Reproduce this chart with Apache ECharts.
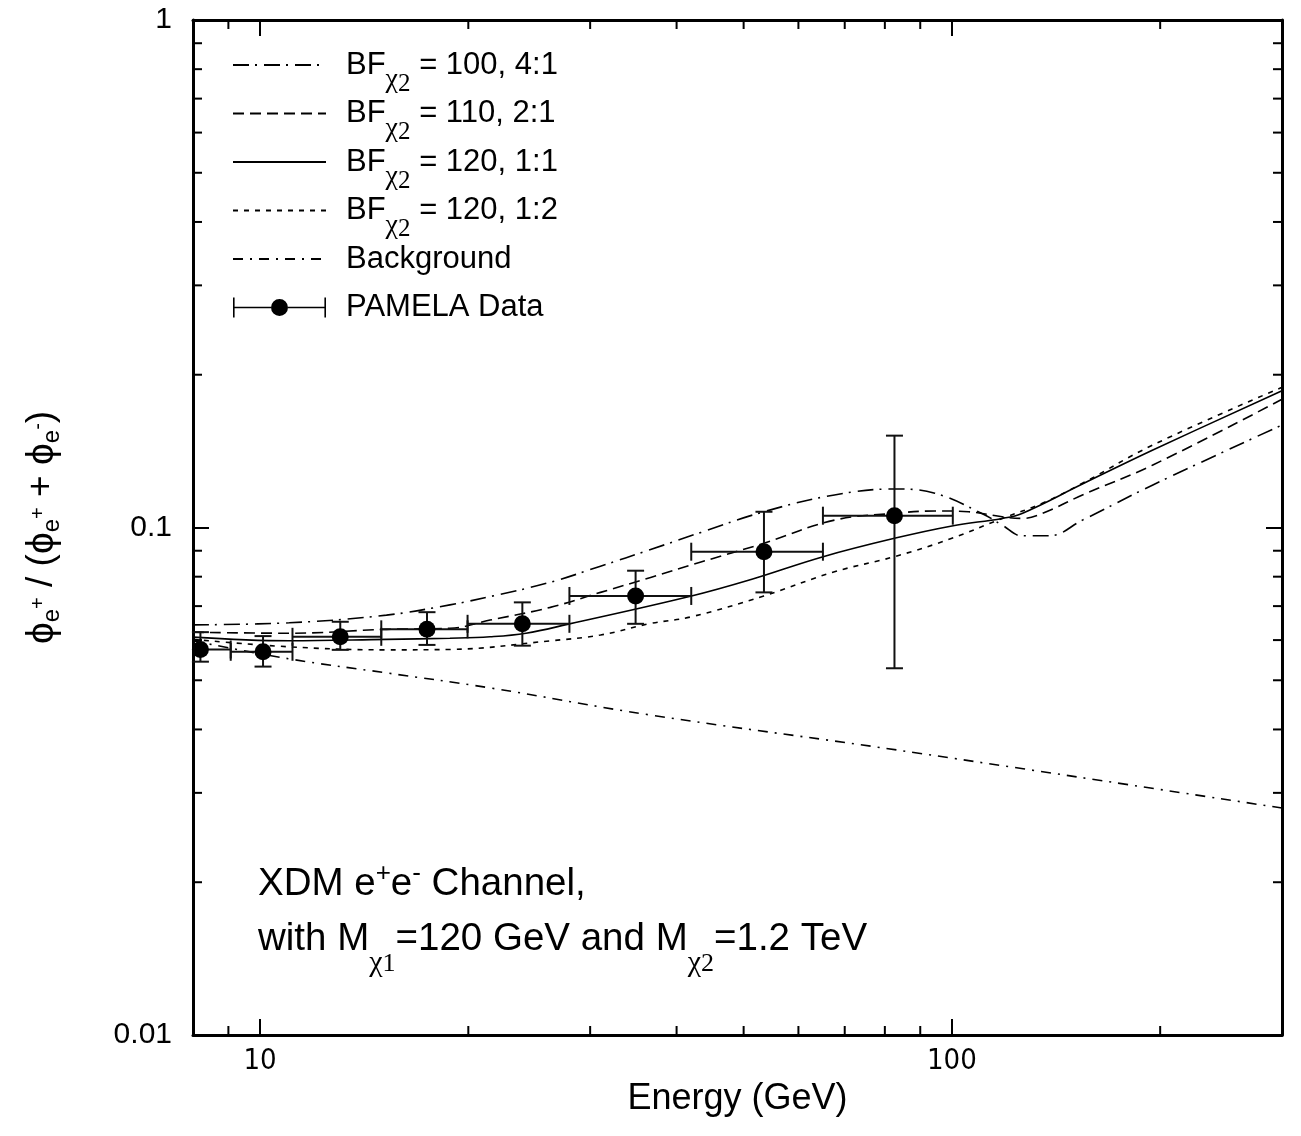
<!DOCTYPE html>
<html><head><meta charset="utf-8">
<script src="https://cdn.jsdelivr.net/npm/echarts/dist/echarts.min.js"></script>
<style>html,body{margin:0;padding:0;background:#fff}#c{width:1301px;height:1136px}</style>
</head><body><div id="c"></div>
<script>
// ---------- data ----------
const seriesNames = ['BFχ2 = 100, 4:1', 'BFχ2 = 110, 2:1', 'BFχ2 = 120, 1:1', 'BFχ2 = 120, 1:2', 'Background', 'PAMELA Data'];

const curveA_E = [8, 11.02, 15.23, 18.81, 21.50, 26.27, 31.05, 36.69, 43.38, 53.47, 67.65, 82.56, 94.48, 110.5, 118.2, 126.3, 138.1, 154.4, 195.2, 300];
const curveA_R = [0.0643, 0.0649, 0.0672, 0.0704, 0.0731, 0.0780, 0.0839, 0.0905, 0.0978, 0.1074, 0.1159, 0.1191, 0.1168, 0.1066, 0.1011, 0.0963, 0.0963, 0.1034, 0.1213, 0.1592];

const curveB_E = [8, 11.02, 15.23, 18.81, 21.50, 26.27, 31.05, 36.69, 43.38, 53.47, 67.65, 82.56, 94.48, 105.7, 118.2, 126.3, 135.1, 154.4, 195.2, 300];
const curveB_R = [0.0622, 0.0619, 0.0630, 0.0633, 0.0657, 0.0696, 0.0745, 0.0797, 0.0855, 0.0931, 0.1034, 0.1066, 0.1078, 0.1074, 0.1050, 0.1042, 0.1066, 0.1159, 0.1328, 0.1789];

const curveC_E = [8, 11.02, 15.23, 18.81, 21.50, 24.23, 27.90, 42.03, 51.25, 65.14, 82.56, 100, 118.2, 126.3, 154.4, 195.2, 300];
const curveC_R = [0.0608, 0.0598, 0.0602, 0.0605, 0.0609, 0.0619, 0.0645, 0.0733, 0.0790, 0.0876, 0.0952, 0.1007, 0.1042, 0.1066, 0.1218, 0.1421, 0.1860];

const curveD_E = [8, 11.02, 15.23, 18.81, 26.27, 31.05, 36.69, 42.03, 53.47, 67.65, 82.56, 100, 118.2, 135.1, 154.4, 195.2, 300];
const curveD_R = [0.0602, 0.0582, 0.0574, 0.0575, 0.0598, 0.0614, 0.0647, 0.0667, 0.0733, 0.0818, 0.0876, 0.0952, 0.1042, 0.1116, 0.1222, 0.1454, 0.1889];

const bg_E = [8, 11.02, 15.23, 21.50, 36.69, 83.76, 300];
const bg_R = [0.0598, 0.0551, 0.0517, 0.0483, 0.0427, 0.0364, 0.0280];

const pam_E   = [8.20, 10.10, 13.06, 17.43, 23.94, 34.9, 53.5, 82.6];
const pam_R   = [0.0575, 0.0569, 0.0609, 0.0630, 0.0646, 0.0733, 0.0896, 0.1055];
const pam_Elo = [7.4, 9.07, 11.14, 14.97, 19.95, 28.0, 42.0, 65.1];
const pam_Ehi = [9.07, 11.14, 14.97, 19.95, 28.0, 42.0, 65.1, 100.3];
const pam_Rlo = [0.0544, 0.0532, 0.0574, 0.0587, 0.0585, 0.0646, 0.0745, 0.0528];
const pam_Rhi = [0.0622, 0.0611, 0.0652, 0.0681, 0.0712, 0.0822, 0.1074, 0.1517];

const xTickValues = [10, 100];
const xTickLabels = ['10', '100'];
const yTickValues = [0.01, 0.1, 1];
const yTickLabels = ['0.01', '0.1', '1'];
const xMinorTicks = [9, 20, 30, 40, 50, 60, 70, 80, 90, 200];
const yMinorTicks = [0.02, 0.03, 0.04, 0.05, 0.06, 0.07, 0.08, 0.09, 0.2, 0.3, 0.4, 0.5, 0.6, 0.7, 0.8, 0.9];

// ---------- chart ----------
const zip = (xs, ys) => xs.map((x, i) => [x, ys[i]]);
const SANS = "'Liberation Sans', Arial, Helvetica, sans-serif";
const NARROW = "'Liberation Sans Narrow', 'DejaVu Sans Condensed', 'Liberation Sans', sans-serif";
const SERIF = "'Liberation Serif', 'Times New Roman', serif";

function tickLabel(values, labels) {
  return function (v) {
    for (let i = 0; i < values.length; i++) {
      if (Math.abs(Math.log10(v) - Math.log10(values[i])) < 1e-6) return labels[i];
    }
    return '';
  };
}

const chart = echarts.init(document.getElementById('c'), null, { renderer: 'canvas' });

const lineCommon = { type: 'line', showSymbol: false, symbol: 'none', smooth: 0.4, color: '#000', silent: true, z: 2 };
const axisLineStyle = { show: true, lineStyle: { color: '#000', width: 3 } };
const hiddenSymbol = { color: 'rgba(0,0,0,0)', opacity: 0, borderWidth: 0 };

const option = {
  animation: false,
  backgroundColor: '#fff',
  grid: { left: 193, top: 20, width: 1089, height: 1015, containLabel: false, outerBoundsMode: 'none' },
  xAxis: [
    { type: 'log', logBase: 10, min: 8, max: 300, position: 'bottom',
      axisLine: axisLineStyle,
      axisTick: { show: true, inside: true, length: 16, lineStyle: { color: '#000', width: 2 } },
      axisLabel: { show: true, formatter: tickLabel(xTickValues, xTickLabels), fontFamily: NARROW, fontSize: 29, color: '#000', margin: 12, showMinLabel: false, showMaxLabel: false },
      splitLine: { show: false }, minorTick: { show: false },
      name: 'Energy (GeV)', nameLocation: 'middle', nameGap: 40,
      nameTextStyle: { fontFamily: SANS, fontSize: 36, color: '#000', verticalAlign: 'top' } },
    { type: 'log', logBase: 10, min: 8, max: 300, position: 'top',
      axisLine: axisLineStyle,
      axisTick: { show: true, inside: true, length: 16, lineStyle: { color: '#000', width: 2 } },
      axisLabel: { show: false }, splitLine: { show: false } }
  ],
  yAxis: [
    { type: 'log', logBase: 10, min: 0.01, max: 1, position: 'left',
      axisLine: axisLineStyle,
      axisTick: { show: true, inside: true, length: 16, lineStyle: { color: '#000', width: 2 } },
      axisLabel: { show: true, formatter: tickLabel(yTickValues, yTickLabels), fontFamily: SANS, fontSize: 30, color: '#000', margin: 21 },
      splitLine: { show: false },
      name: '{p|ϕ}{s|e}{ss|+} / ({p|ϕ}{s|e}{ss|+} + {p|ϕ}{s|e}{ss|-})', nameLocation: 'middle', nameGap: 128, nameRotate: 90,
      nameTextStyle: { fontFamily: SANS, fontSize: 37, color: '#000', lineHeight: 46,
        rich: {
          p: { fontFamily: SANS, fontSize: 39, color: '#000' },
          s: { fontFamily: SANS, fontSize: 24, padding: [20, 0, 0, 0], color: '#000' },
          ss: { fontFamily: SANS, fontSize: 20, padding: [0, 0, 8, 0], color: '#000' }
        } } },
    { type: 'log', logBase: 10, min: 0.01, max: 1, position: 'right',
      axisLine: axisLineStyle,
      axisTick: { show: true, inside: true, length: 16, lineStyle: { color: '#000', width: 2 } },
      axisLabel: { show: false }, splitLine: { show: false } }
  ],
  legend: {
    show: true, orient: 'vertical', left: 232, top: 45, padding: 0,
    itemGap: -3, itemWidth: 93, itemHeight: 20, selectedMode: false,
    data: [
      { name: seriesNames[0], itemStyle: hiddenSymbol },
      { name: seriesNames[1], itemStyle: hiddenSymbol },
      { name: seriesNames[2], itemStyle: hiddenSymbol },
      { name: seriesNames[3], itemStyle: hiddenSymbol },
      { name: seriesNames[4], itemStyle: hiddenSymbol },
      { name: seriesNames[5], icon: 'path://M0,0h1.6v20h-1.6z M91.4,0h1.6v20h-1.6z M0,9.2h38v1.6h-38z M55,9.2h38v1.6h-38z M38,10a8.5,8.5 0 1,0 17,0a8.5,8.5 0 1,0 -17,0z', itemStyle: { color: '#000', opacity: 1 } }],
    formatter: function (name) {
      const t = name.replace(/χ(\d)/g, '{c|χ}{n|$1}');
      return '{g| }' + t + (t === name ? '{n| }' : '');
    },
    textStyle: { fontFamily: SANS, fontSize: 31, color: '#000', lineHeight: 40,
      rich: {
        g: { width: 15, fontSize: 10 },
        c: { fontFamily: SERIF, fontSize: 28, padding: [30, 0, 0, 0], color: '#000' },
        n: { fontFamily: SERIF, fontSize: 25, padding: [38, 0, 0, 0], color: '#000' }
      } }
  },
  graphic: [
    { type: 'text', left: 258, top: 857, silent: true,
      style: {
        text: 'XDM e{sp|+}e{sp|-} Channel,\nwith M{c|χ}{n|1}=120 GeV and M{c|χ}{n|2}=1.2 TeV',
        fontFamily: SANS, fontSize: 38.5, lineHeight: 55, fill: '#000',
        rich: {
          sp: { fontFamily: SANS, fontSize: 26, lineHeight: 24, padding: [0, 0, 22, 0], fill: '#000' },
          c: { fontFamily: SERIF, fontSize: 30, lineHeight: 7, padding: [48, 0, 0, 0], fill: '#000' },
          n: { fontFamily: SERIF, fontSize: 26, lineHeight: 5, padding: [50, 0, 0, 0], fill: '#000' }
        }
      } }
  ],
  series: [
    Object.assign({}, lineCommon, { name: seriesNames[0], data: zip(curveA_E, curveA_R), lineStyle: { color: '#000', width: 1.6, type: [16, 6, 2, 7] } }),
    Object.assign({}, lineCommon, { name: seriesNames[1], data: zip(curveB_E, curveB_R), lineStyle: { color: '#000', width: 1.6, type: [11, 6] } }),
    Object.assign({}, lineCommon, { name: seriesNames[2], data: zip(curveC_E, curveC_R), lineStyle: { color: '#000', width: 1.6, type: 'solid' } }),
    Object.assign({}, lineCommon, { name: seriesNames[3], data: zip(curveD_E, curveD_R), lineStyle: { color: '#000', width: 1.6, type: [5, 6] } }),
    Object.assign({}, lineCommon, { name: seriesNames[4], data: zip(bg_E, bg_R), lineStyle: { color: '#000', width: 1.6, type: [10, 7, 2, 7] } }),
    { name: 'errorbars', type: 'custom', silent: true, z: 3,
      data: pam_E.map((e, i) => [e, pam_R[i], pam_Elo[i], pam_Ehi[i], pam_Rlo[i], pam_Rhi[i]]),
      encode: { x: 0, y: 1 },
      renderItem: function (params, api) {
        const cs = params.coordSys;
        const e = api.value(0), r = api.value(1);
        const pl = api.coord([api.value(2), r]);
        const ph = api.coord([api.value(3), r]);
        const pb = api.coord([e, api.value(4)]);
        const pt = api.coord([e, api.value(5)]);
        const st = { stroke: '#111', lineWidth: 2 };
        const children = [];
        const xl = Math.max(pl[0], cs.x), xh = Math.min(ph[0], cs.x + cs.width);
        children.push({ type: 'line', shape: { x1: xl, y1: pl[1], x2: xh, y2: ph[1] }, style: st });
        if (pl[0] >= cs.x) children.push({ type: 'line', shape: { x1: pl[0], y1: pl[1] - 9, x2: pl[0], y2: pl[1] + 9 }, style: st });
        if (ph[0] <= cs.x + cs.width) children.push({ type: 'line', shape: { x1: ph[0], y1: ph[1] - 9, x2: ph[0], y2: ph[1] + 9 }, style: st });
        children.push({ type: 'line', shape: { x1: pb[0], y1: pb[1], x2: pt[0], y2: pt[1] }, style: st });
        children.push({ type: 'line', shape: { x1: pb[0] - 8.5, y1: pb[1], x2: pb[0] + 8.5, y2: pb[1] }, style: st });
        children.push({ type: 'line', shape: { x1: pt[0] - 8.5, y1: pt[1], x2: pt[0] + 8.5, y2: pt[1] }, style: st });
        return { type: 'group', children: children };
      } },
    { name: seriesNames[5], type: 'scatter', data: zip(pam_E, pam_R), symbol: 'circle', symbolSize: 17,
      itemStyle: { color: '#000', opacity: 1 }, color: '#000', z: 4, silent: true },
    { name: 'minorTicks', type: 'custom', silent: true, z: 5,
      data: xMinorTicks.map(v => [v, 0.1, 0]).concat(yMinorTicks.map(v => [10, v, 1])),
      encode: { x: 0, y: 1 },
      renderItem: function (params, api) {
        const cs = params.coordSys;
        const p = api.coord([api.value(0), api.value(1)]);
        const st = { stroke: '#000', lineWidth: 2 };
        const L = 9;
        if (api.value(2) === 0) {
          const yb = cs.y + cs.height, yt = cs.y;
          return { type: 'group', children: [
            { type: 'line', shape: { x1: p[0], y1: yb, x2: p[0], y2: yb - L }, style: st },
            { type: 'line', shape: { x1: p[0], y1: yt, x2: p[0], y2: yt + L }, style: st }
          ] };
        }
        const xl = cs.x, xr = cs.x + cs.width;
        return { type: 'group', children: [
          { type: 'line', shape: { x1: xl, y1: p[1], x2: xl + L, y2: p[1] }, style: st },
          { type: 'line', shape: { x1: xr, y1: p[1], x2: xr - L, y2: p[1] }, style: st }
        ] };
      } }
  ]
};
chart.setOption(option);
</script></body></html>
